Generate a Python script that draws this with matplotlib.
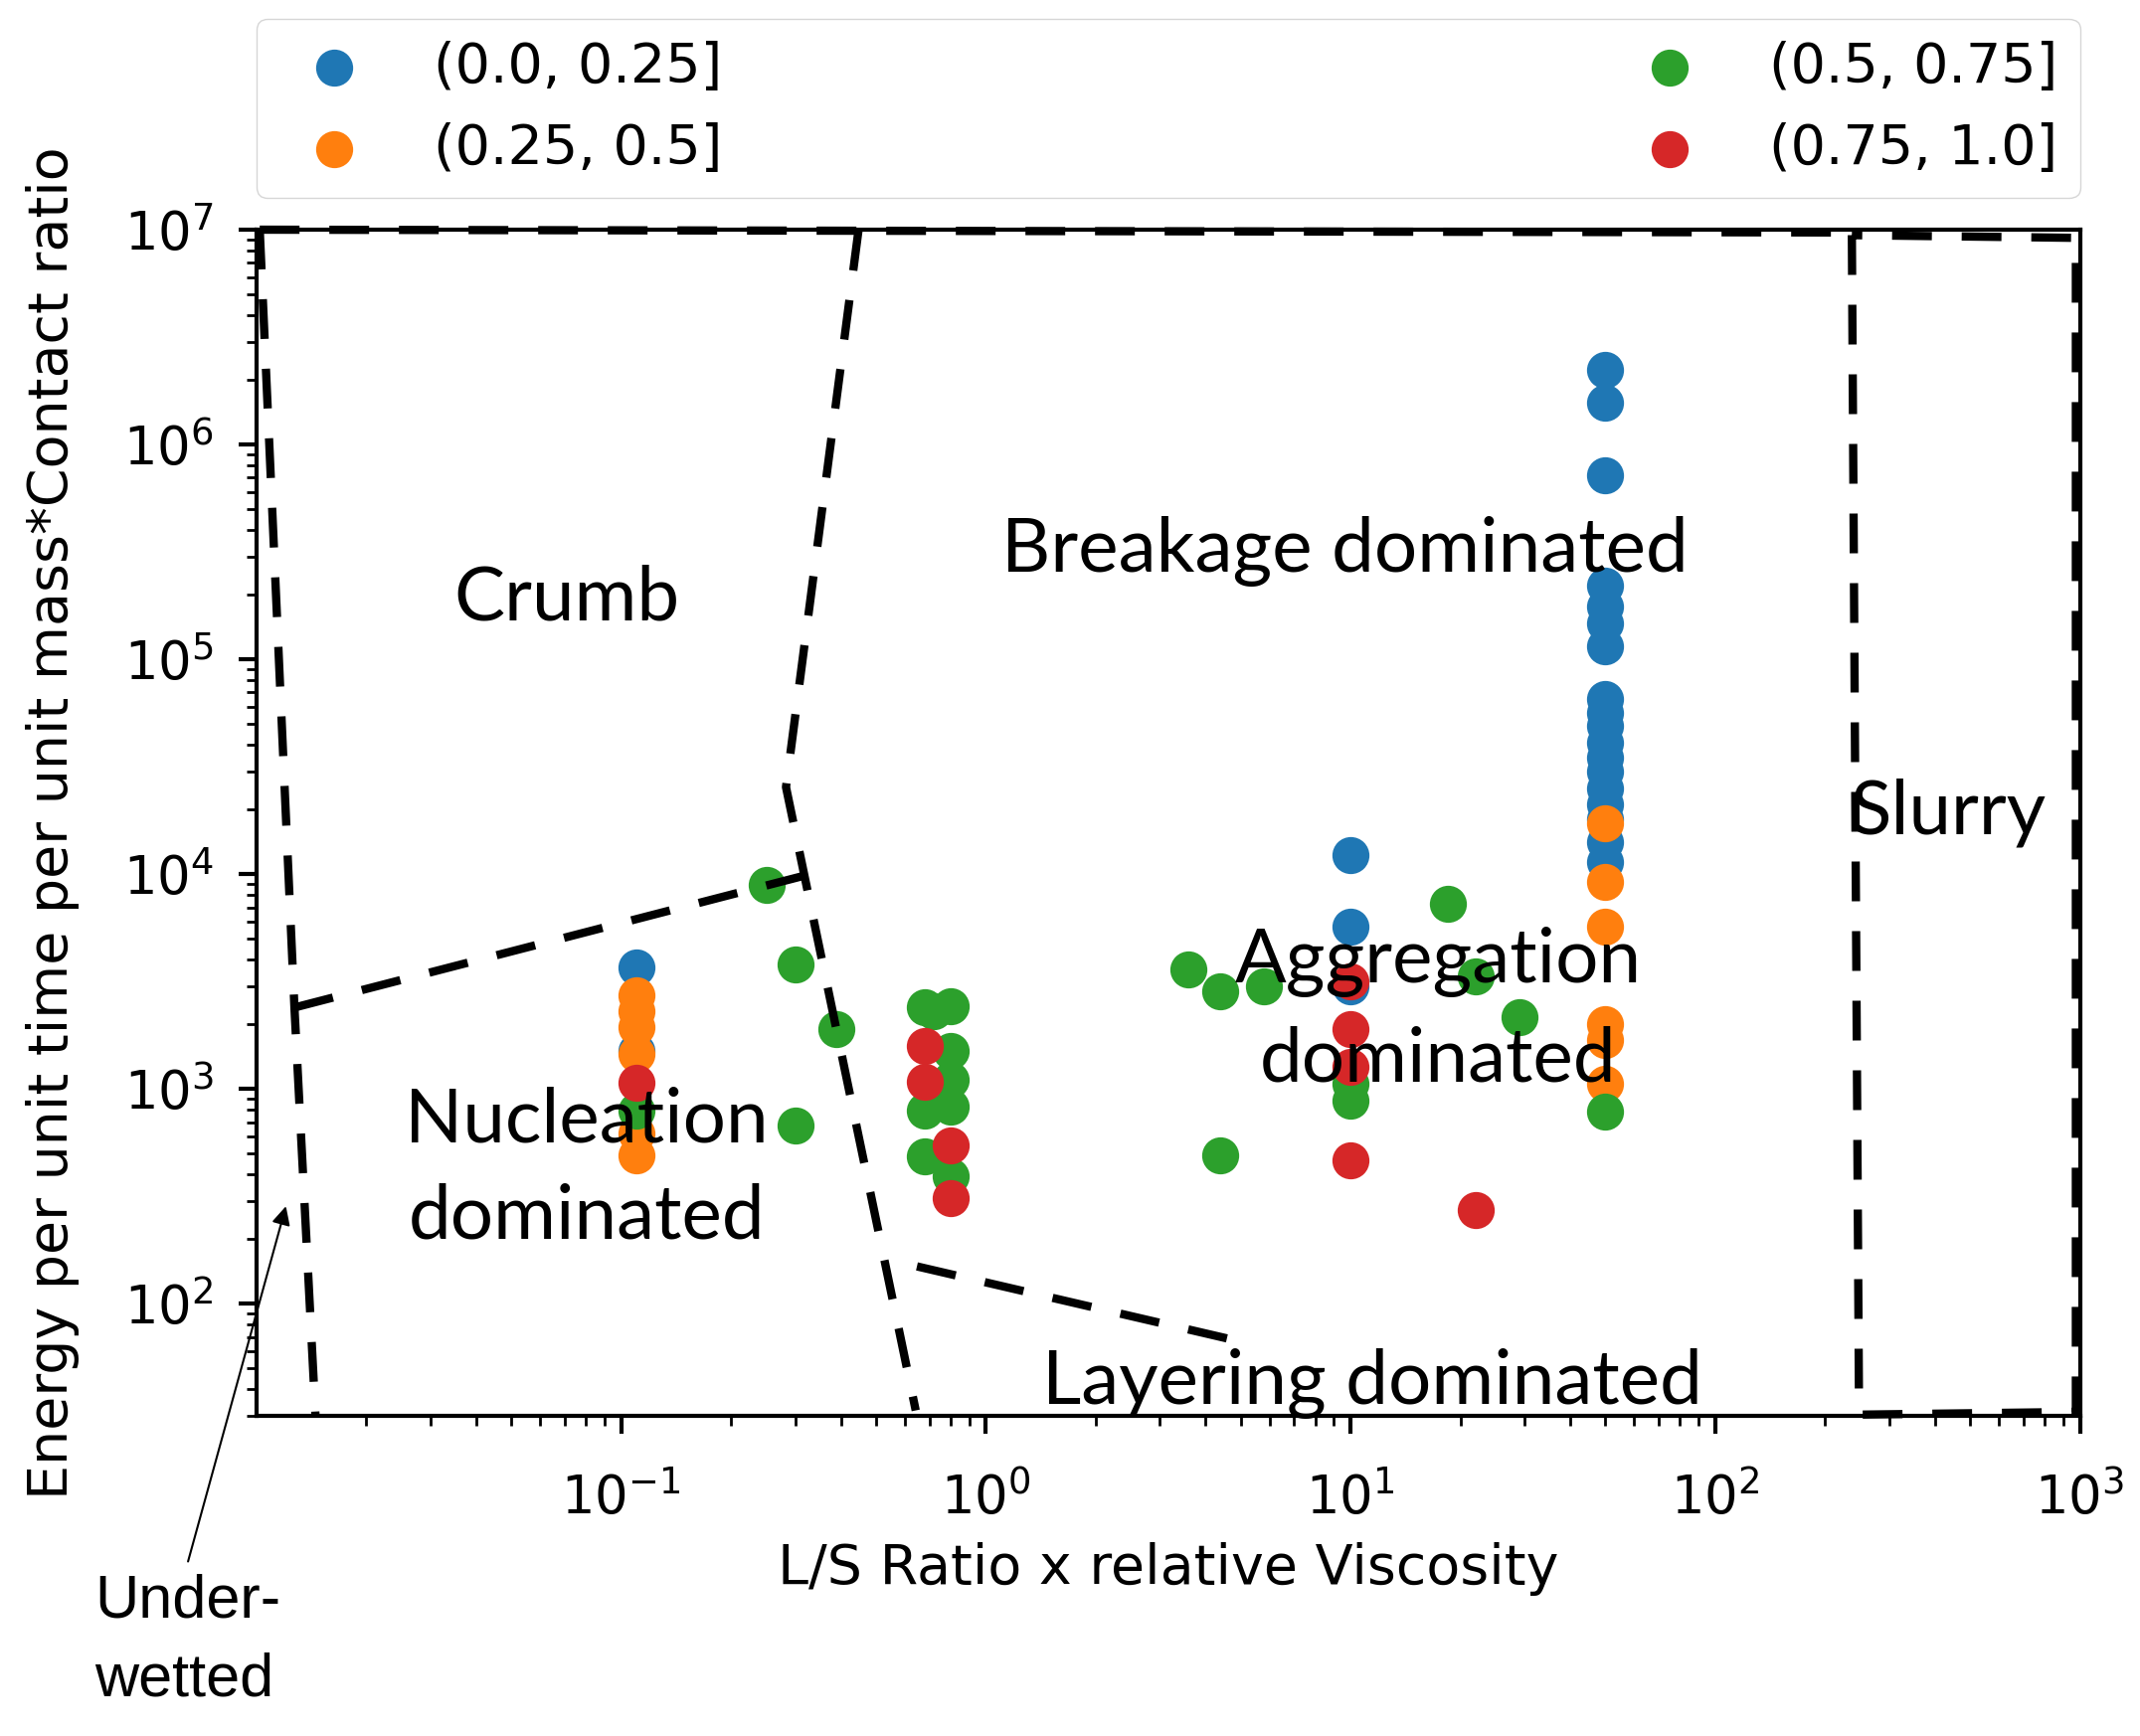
import matplotlib
matplotlib.use("Agg")
import matplotlib.pyplot as plt

# --- data ----------------------------------------------------------------
labels = ['(0.0, 0.25]', '(0.25, 0.5]', '(0.5, 0.75]', '(0.75, 1.0]']
colors = ['#1f77b4', '#ff7f0e', '#2ca02c', '#d62728']

x_blue = [0.11, 0.11, 10, 10, 10,
          50, 50, 50, 50, 50, 50, 50, 50, 50, 50, 50, 50, 50, 50, 50, 50, 50, 50]
y_blue = [3660, 1500, 12200, 5700, 3000,
          2.23e6, 1.56e6, 7.2e5, 2.2e5, 1.76e5, 1.47e5, 1.15e5, 6.5e4, 5.6e4, 4.9e4,
          4.1e4, 3.5e4, 3.0e4, 2.5e4, 2.1e4, 1.8e4, 1.4e4, 1.14e4]

x_orange = [0.11, 0.11, 0.11, 0.11, 0.11, 0.11, 50, 50, 50, 50, 50, 50]
y_orange = [2740, 2310, 1930, 1450, 620, 491, 1.72e4, 9200, 5700, 2000, 1680, 1050]

x_green = [0.11, 0.25, 0.3, 0.39, 0.3, 0.68, 0.68, 0.68, 0.72, 0.8, 0.8, 0.8, 0.8, 0.8,
           3.6, 4.4, 5.8, 4.4, 10, 10, 18.5, 22, 29, 50]
y_green = [795, 8900, 3790, 1900, 676, 2390, 795, 484, 2300, 2430, 1500, 1100, 830, 392,
           3600, 2850, 3000, 491, 1050, 880, 7300, 3350, 2150, 780]

x_red = [0.11, 0.68, 0.68, 0.8, 0.8, 10, 10, 10, 10, 22]
y_red = [1070, 1585, 1075, 547, 310, 3170, 1900, 1260, 466, 273]

# region boundaries (data coordinates)
top_x, top_y = [0.0102, 237], [1e7, 9.7e6]
left_x, left_y = [0.0102, 0.0127, 0.0145], [1e7, 2390, 30.4]
nucl_x, nucl_y = [0.0127, 0.354], [2390, 1.03e4]
div_x, div_y = [0.447, 0.283, 0.642], [9.85e6, 2.54e4, 31.8]
layer_x, layer_y = [0.647, 5.1], [149, 66]
slurry_x = [237, 248, 975, 975, 237]
slurry_y = [9.43e6, 30.4, 31.3, 9.16e6, 9.43e6]

plt.rcParams['font.size'] = 38

fig = plt.figure(figsize=(21.52, 17.46), dpi=100)
ax = fig.add_axes([0.1199, 0.1844, 0.8520, 0.6833])

for xs, ys, c, lab in zip([x_blue, x_orange, x_green, x_red],
                          [y_blue, y_orange, y_green, y_red], colors, labels):
    ax.scatter(xs, ys, s=720, c=c, label=lab, linewidths=0, zorder=3)

ax.set_xscale('log')
ax.set_yscale('log')
ax.set_xlim(1e-2, 1e3)
ax.set_ylim(30, 1e7)
ax.set_xticks([0.1, 1, 10, 100, 1000])
ax.set_xlabel("L/S Ratio x relative Viscosity", labelpad=12, fontsize=40)
ax.set_ylabel("Energy per unit time per unit mass*Contact ratio", labelpad=32, fontsize=40)
ax.tick_params(which='major', length=13, width=3, pad=18)
ax.tick_params(which='minor', length=7, width=2)
ax.tick_params(axis='x', which='major', pad=28)
for sp in ax.spines.values():
    sp.set_linewidth(3)

# dashed region boundaries
dash = dict(color='k', lw=6, dashes=(4.8, 3.6), clip_on=False, zorder=4)
for xs, ys in [(top_x, top_y), (left_x, left_y), (nucl_x, nucl_y),
               (div_x, div_y), (layer_x, layer_y), (slurry_x, slurry_y)]:
    ax.plot(xs, ys, **dash)

txt = dict(family='Lato', fontsize=55, ha='center', va='center',
           transform=ax.transAxes, zorder=5, linespacing=1.5)
ax.text(0.170, 0.689, "Crumb", **txt)
ax.text(0.597, 0.729, "Breakage dominated", **txt)
ax.text(0.181, 0.208, "Nucleation\ndominated", **txt)
ax.text(0.648, 0.342, "Aggregation\ndominated", **txt)
ax.text(0.612, 0.027, "Layering dominated", **txt)
ax.text(0.874, 0.509, "Slurry", **dict(txt, ha='left'))

ax.annotate("", xy=(0.0165, 0.179), xycoords='axes fraction',
            xytext=(-0.038, -0.125), textcoords='axes fraction',
            arrowprops=dict(arrowstyle='-|>', color='k', lw=1.5, mutation_scale=28),
            annotation_clip=False)
ax.text(-0.089, -0.19, "Under-\nwetted", family='Liberation Sans', fontsize=44,
        ha='left', va='center', transform=ax.transAxes, linespacing=1.5)

ax.legend(loc='lower left', bbox_to_anchor=(0, 1.027, 1, 0.15), mode='expand',
          ncol=2, borderaxespad=0, fontsize=40)

fig.savefig("out.png", dpi=100)
